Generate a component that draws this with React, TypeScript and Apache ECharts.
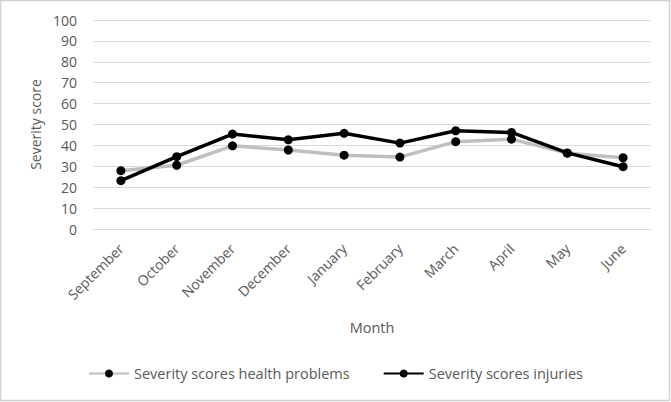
import React, { useEffect, useRef } from "react";
import * as echarts from "echarts";

const months = ["September", "October", "November", "December", "January", "February", "March", "April", "May", "June"];
const healthProblems = [27.9, 30.5, 39.8, 37.8, 35.3, 34.4, 41.8, 43.0, 36.3, 34.1];
const injuries = [23.1, 34.6, 45.4, 42.7, 45.8, 41.1, 47.0, 46.2, 36.4, 29.8];
const yTicks = { min: 0, max: 100, interval: 10 };

const textColor = "#595959";
const font = "Open Sans";

export default function App() {
  const ref = useRef<HTMLDivElement>(null);
  useEffect(() => {
    document.body.style.margin = "0";
    const chart = echarts.init(ref.current!, null, { renderer: "svg" });
    chart.setOption({
      animation: false,
      backgroundColor: "#ffffff",
      grid: { left: 93, right: 20, top: 20, bottom: 173, containLabel: false },
      xAxis: {
        type: "category",
        data: months,
        boundaryGap: true,
        name: "Month",
        nameLocation: "middle",
        nameGap: 91,
        nameTextStyle: { color: textColor, fontFamily: font, fontSize: 14.5 },
        axisLine: { show: true, lineStyle: { color: "#d9d9d9", width: 1 } },
        axisTick: { show: false },
        axisLabel: { rotate: 45, color: textColor, fontFamily: font, fontSize: 14, margin: 17 },
      },
      yAxis: {
        type: "value",
        min: yTicks.min,
        max: yTicks.max,
        interval: yTicks.interval,
        name: "Severity score",
        nameLocation: "middle",
        nameGap: 50,
        nameTextStyle: { color: textColor, fontFamily: font, fontSize: 14 },
        axisLine: { show: false },
        axisTick: { show: false },
        axisLabel: { color: textColor, fontFamily: font, fontSize: 14, margin: 16 },
        splitLine: { lineStyle: { color: "#d9d9d9", width: 1 } },
      },
      legend: {
        bottom: 16,
        left: "center",
        itemGap: 33,
        itemWidth: 40,
        itemHeight: 10,
        textStyle: { color: textColor, fontFamily: font, fontSize: 14.5 },
        data: [
          { name: "Severity scores health problems" },
          { name: "Severity scores injuries" },
        ],
      },
      series: [
        {
          name: "Severity scores health problems",
          type: "line",
          data: healthProblems,
          symbol: "circle",
          symbolSize: 9,
          itemStyle: { color: "#000000" },
          lineStyle: { color: "#bfbfbf", width: 3.5 },
          z: 2,
        },
        {
          name: "Severity scores injuries",
          type: "line",
          data: injuries,
          symbol: "circle",
          symbolSize: 9,
          itemStyle: { color: "#000000" },
          lineStyle: { color: "#000000", width: 3.5 },
          z: 3,
        },
      ],
      graphic: [
        {
          type: "rect",
          shape: { x: 0.5, y: 0.5, width: 669, height: 400 },
          style: { fill: "none", stroke: "#d0d0d0", lineWidth: 1.5 },
          silent: true,
        },
      ],
    });
    return () => chart.dispose();
  }, []);
  return <div ref={ref} style={{ width: 671, height: 402 }} />;
}
